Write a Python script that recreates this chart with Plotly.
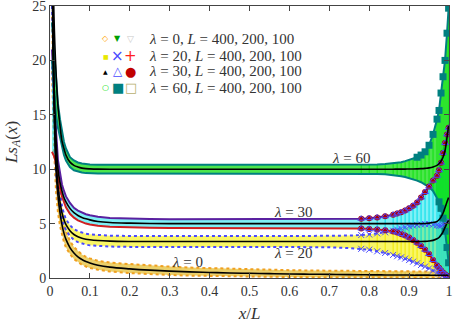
import plotly.graph_objects as go

x_nodes = [0.005, 0.01, 0.015, 0.02, 0.025, 0.03, 0.035, 0.04, 0.05, 0.06, 0.07, 0.08, 0.09, 0.1, 0.12, 0.15,
           0.2, 0.25, 0.3, 0.35, 0.4, 0.45, 0.5, 0.55, 0.6, 0.65, 0.7, 0.75,
           0.78, 0.8, 0.82, 0.84, 0.86, 0.87, 0.88, 0.89, 0.9, 0.91, 0.92, 0.93, 0.94, 0.95, 0.96, 0.97,
           0.975, 0.98, 0.985, 0.99, 0.995, 0.999]

# lambda = 0
theory_0 = [30, 17, 10.0, 7.6, 6.0, 4.9, 4.1, 3.55, 2.8, 2.3, 1.95, 1.7, 1.52, 1.38, 1.18, 1.0,
            0.84, 0.72, 0.63, 0.56, 0.51, 0.46, 0.43, 0.4, 0.37, 0.35, 0.33, 0.31,
            0.3, 0.29, 0.29, 0.28, 0.28, 0.27, 0.27, 0.27, 0.27, 0.26, 0.26, 0.26, 0.26, 0.26, 0.25, 0.25,
            0.25, 0.25, 0.25, 0.25, 0.25, 0.25]
upper_0 = [24, 16, 11.5, 8.6, 6.9, 5.7, 4.9, 4.3, 3.4, 2.85, 2.45, 2.15, 1.95, 1.8, 1.58, 1.42,
           1.28, 1.15, 1.05, 0.96, 0.9, 0.84, 0.79, 0.75, 0.72, 0.69, 0.67, 0.65,
           0.64, 0.63, 0.62, 0.62, 0.61, 0.61, 0.61, 0.6, 0.6, 0.6, 0.6, 0.6, 0.59, 0.59, 0.59, 0.59,
           0.59, 0.59, 0.58, 0.58, 0.58, 0.58]
lower_0 = [19, 12, 8.0, 6.0, 4.8, 3.9, 3.3, 2.8, 2.2, 1.75, 1.45, 1.22, 1.06, 0.93, 0.76, 0.6,
           0.45, 0.35, 0.28, 0.22, 0.18, 0.15, 0.12, 0.1, 0.09, 0.08, 0.07, 0.06,
           0.06, 0.06, 0.05, 0.05, 0.05, 0.05, 0.05, 0.05, 0.05, 0.05, 0.05, 0.05, 0.05, 0.05, 0.05, 0.05,
           0.05, 0.05, 0.05, 0.05, 0.05, 0.05]

# lambda = 20
theory_20 = [30, 16, 11.0, 8.5, 7.0, 6.0, 5.35, 4.9, 4.35, 4.0, 3.8, 3.66, 3.57, 3.51, 3.44, 3.39,
             3.36, 3.35, 3.35, 3.35, 3.35, 3.35, 3.35, 3.35, 3.35, 3.35, 3.35, 3.35,
             3.35, 3.35, 3.35, 3.35, 3.35, 3.35, 3.35, 3.35, 3.35, 3.35, 3.36, 3.36, 3.37, 3.4, 3.46, 3.6,
             3.72, 3.95, 4.25, 4.65, 5.05, 5.3]
upper_20 = [25, 18, 12.2, 9.4, 7.7, 6.6, 5.9, 5.4, 4.85, 4.5, 4.3, 4.16, 4.07, 4.01, 3.94, 3.89,
            3.86, 3.85, 3.85, 3.85, 3.85, 3.85, 3.85, 3.85, 3.85, 3.85, 3.86, 3.9,
            3.95, 4.0, 4.1, 4.2, 4.35, 4.45, 4.55, 4.65, 4.75, 4.82, 4.88, 4.92, 4.95, 4.95, 4.9, 4.85,
            4.8, 4.8, 4.9, 5.0, 5.2, 5.3]
lower_20 = [20, 14, 9.8, 7.6, 6.3, 5.4, 4.8, 4.4, 3.85, 3.5, 3.3, 3.16, 3.07, 3.0, 2.94, 2.89,
            2.86, 2.85, 2.85, 2.85, 2.85, 2.85, 2.85, 2.85, 2.85, 2.85, 2.82, 2.75,
            2.68, 2.6, 2.45, 2.3, 2.12, 2.0, 1.9, 1.78, 1.65, 1.5, 1.35, 1.2, 1.05, 0.88, 0.68, 0.5,
            0.42, 0.33, 0.25, 0.18, 0.12, 0.08]

# lambda = 30
theory_30 = [30, 18, 13.0, 10.0, 8.8, 8.0, 7.4, 7.0, 6.4, 6.0, 5.75, 5.57, 5.44, 5.34, 5.2, 5.1,
             5.04, 5.01, 5.0, 5.0, 5.0, 5.0, 5.0, 5.0, 5.0, 5.0, 5.0, 5.0,
             5.0, 5.0, 5.0, 5.0, 5.0, 5.0, 5.0, 5.0, 5.0, 5.0, 5.0, 5.0, 5.01, 5.04, 5.1, 5.2,
             5.35, 5.6, 5.95, 6.45, 7.0, 7.4]
upper_30 = [21, 17, 13.6, 10.8, 9.5, 8.6, 8.0, 7.5, 6.9, 6.45, 6.2, 6.0, 5.86, 5.76, 5.62, 5.52,
            5.45, 5.42, 5.4, 5.4, 5.4, 5.4, 5.4, 5.4, 5.4, 5.4, 5.4, 5.42,
            5.45, 5.5, 5.57, 5.67, 5.82, 5.92, 6.05, 6.2, 6.4, 6.65, 6.95, 7.4, 7.9, 8.4, 8.95, 9.4,
            9.9, 10.6, 11.5, 12.4, 13.2, 13.8]
lower_30 = [11.6, 11.2, 10.6, 9.4, 8.3, 7.5, 6.9, 6.5, 5.9, 5.55, 5.3, 5.13, 5.0, 4.92, 4.8, 4.7,
            4.64, 4.61, 4.6, 4.6, 4.6, 4.6, 4.6, 4.6, 4.6, 4.6, 4.6, 4.58,
            4.55, 4.5, 4.45, 4.38, 4.28, 4.18, 4.05, 3.9, 3.72, 3.5, 3.25, 2.95, 2.6, 2.2, 1.65, 1.15,
            0.95, 0.72, 0.5, 0.35, 0.2, 0.1]

# lambda = 60
theory_60 = [40, 24, 19.0, 15.8, 14.0, 12.6, 11.9, 11.3, 10.65, 10.35, 10.2, 10.1, 10.05, 10.03, 10.01, 10.0,
             10.0, 10.0, 10.0, 10.0, 10.0, 10.0, 10.0, 10.0, 10.0, 10.0, 10.0, 10.0,
             10.0, 10.0, 10.0, 10.0, 10.0, 10.01, 10.01, 10.01, 10.02, 10.02, 10.03, 10.05, 10.08, 10.12, 10.2, 10.35,
             10.5, 10.75, 11.1, 11.7, 12.9, 14.0]
upper_60 = [23.5, 21, 18.0, 16.0, 14.6, 13.4, 12.5, 11.9, 11.1, 10.8, 10.62, 10.52, 10.46, 10.43, 10.41, 10.4,
            10.4, 10.4, 10.4, 10.4, 10.4, 10.4, 10.4, 10.4, 10.4, 10.4, 10.4, 10.4,
            10.41, 10.42, 10.44, 10.47, 10.52, 10.57, 10.64, 10.74, 10.85, 10.97, 11.1, 11.3, 11.6, 12.2, 13.2, 14.6,
            15.4, 17.0, 18.5, 20.0, 22.5, 24.8]
lower_60 = [20, 17, 15.0, 13.8, 12.9, 12.0, 11.3, 10.8, 10.2, 9.9, 9.76, 9.69, 9.64, 9.62, 9.61, 9.6,
            9.6, 9.6, 9.6, 9.6, 9.6, 9.6, 9.6, 9.6, 9.6, 9.6, 9.6, 9.6,
            9.59, 9.58, 9.56, 9.53, 9.48, 9.43, 9.36, 9.28, 9.18, 9.08, 8.95, 8.8, 8.6, 8.35, 8.0, 7.4,
            7.0, 6.4, 5.5, 4.3, 2.8, 1.4]

groups = [
    # upper, lower, theory, fill colour, hatch colour, upper edge, lower edge, edge dash
    (upper_0, lower_0, theory_0, 'rgba(232,200,80,0.85)', '#e0c040', '#f0a020', '#f0a020', 'dot'),
    (upper_20, lower_20, theory_20, 'rgba(245,240,0,0.6)', '#f0e800', '#4a4aff', '#4a4aff', 'dot'),
    (upper_30, lower_30, theory_30, 'rgba(0,225,235,0.5)', '#00dde8', '#5a20a0', '#d02020', 'solid'),
    (upper_60, lower_60, theory_60, 'rgba(0,220,0,0.7)', '#10e010', '#008080', '#008080', 'solid'),
]

tail = slice(28, None)
fig = go.Figure()

for upper, lower, theory, fill, hatch, up_col, lo_col, dash in groups:
    fig.add_trace(go.Scatter(x=x_nodes, y=lower, mode='lines', line=dict(width=0),
                             showlegend=False, hoverinfo='skip'))
    fig.add_trace(go.Scatter(x=x_nodes, y=upper, mode='lines', line=dict(width=0),
                             fill='tonexty', fillcolor=fill, showlegend=False, hoverinfo='skip'))
    # vertical zig-zag between the even and odd sites near the right wall
    spread = [u - l for u, l in zip(upper[tail], lower[tail])]
    fig.add_trace(go.Scatter(x=x_nodes[tail], y=lower[tail], mode='markers', marker=dict(size=1, opacity=0),
                             error_y=dict(type='data', symmetric=False, array=spread,
                                          arrayminus=[0] * len(spread), width=0,
                                          thickness=1, color=hatch),
                             showlegend=False, hoverinfo='skip'))
    fig.add_trace(go.Scatter(x=x_nodes, y=upper, mode='lines',
                             line=dict(color=up_col, width=2, dash=dash), showlegend=False))
    fig.add_trace(go.Scatter(x=x_nodes, y=lower, mode='lines',
                             line=dict(color=lo_col, width=2, dash=dash), showlegend=False))

# point symbols near the right boundary
fig.add_trace(go.Scatter(x=x_nodes[tail] * 2, y=upper_20[tail] + lower_20[tail], mode='markers',
                         marker=dict(symbol='x-thin', size=6, line=dict(color='#4a4aff', width=1)),
                         showlegend=False))
fig.add_trace(go.Scatter(x=x_nodes[tail] * 2, y=upper_30[tail] + lower_30[tail], mode='markers',
                         marker=dict(symbol='circle', size=6, color='#b00000'), showlegend=False))
fig.add_trace(go.Scatter(x=x_nodes[tail] * 2, y=upper_30[tail] + lower_30[tail], mode='markers',
                         marker=dict(symbol='triangle-up-open', size=6, color='#4a4aff'), showlegend=False))
fig.add_trace(go.Scatter(x=x_nodes[38:], y=upper_60[38:], mode='markers',
                         marker=dict(symbol='square', size=7, color='#008080'), showlegend=False))
fig.add_trace(go.Scatter(x=x_nodes[44:], y=lower_60[44:], mode='markers',
                         marker=dict(symbol='square', size=7, color='#008080'), showlegend=False))

# theoretical curves
for theory in (theory_0, theory_20, theory_30, theory_60):
    fig.add_trace(go.Scatter(x=x_nodes, y=theory, mode='lines',
                             line=dict(color='black', width=1.6, shape='spline'), showlegend=False))

# hand-made legend: three symbols per row
legend_rows = [
    ('<i>λ</i> = 0, <i>L</i> = 400, 200, 100', [('◇', '#ffa500', 8), ('▼', '#00a000', 8), ('▽', '#c8c8c8', 9)]),
    ('<i>λ</i> = 20, <i>L</i> = 400, 200, 100', [('■', '#e8e800', 6), ('×', '#4a4aff', 15), ('+', '#ff2020', 15)]),
    ('<i>λ</i> = 30, <i>L</i> = 400, 200, 100', [('▲', 'black', 6), ('△', '#4a4aff', 12), ('●', '#c00000', 13)]),
    ('<i>λ</i> = 60, <i>L</i> = 400, 200, 100', [('○', '#00e000', 8), ('■', '#008080', 13), ('□', '#b8b070', 13)]),
]
row_y = [0.879, 0.816, 0.761, 0.699]
sym_x = [0.140, 0.170, 0.203]
annotations = []
for (label, symbols), ry in zip(legend_rows, row_y):
    annotations.append(dict(x=0.243, y=ry, xref='paper', yref='paper', text=label, showarrow=False,
                            xanchor='left', yanchor='middle', font=dict(size=15)))
    for (sym, col, size), sx in zip(symbols, sym_x):
        annotations.append(dict(x=sx, y=ry, xref='paper', yref='paper', text=sym, showarrow=False,
                                xanchor='center', yanchor='middle',
                                font=dict(size=size, color=col, family='DejaVu Sans')))

# curve labels
for text, lx, ly in [('<i>λ</i> = 60', 0.754, 11.0), ('<i>λ</i> = 30', 0.608, 6.1),
                     ('<i>λ</i> = 20', 0.608, 2.3), ('<i>λ</i> = 0', 0.344, 1.5)]:
    annotations.append(dict(x=lx, y=ly, text=text, showarrow=False, font=dict(size=15)))

axis_style = dict(showline=True, linecolor='#444', linewidth=1, mirror='ticks', ticks='inside',
                  ticklen=5, tickcolor='#444', showgrid=False, zeroline=False,
                  automargin=False, ticklabeloverflow='allow')

fig.update_layout(
    width=453, height=323,
    margin=dict(l=50, r=4, t=6, b=45),
    plot_bgcolor='white', paper_bgcolor='white',
    font=dict(family='Liberation Serif', size=14, color='#333'),
    showlegend=False,
    annotations=annotations,
    xaxis=dict(range=[0, 1], dtick=0.1, title=dict(text='<i>x</i>/<i>L</i>', standoff=12), **axis_style),
    yaxis=dict(range=[0, 25], dtick=5,
               title=dict(text='<i>Ls</i><sub><i>A</i></sub>(<i>x</i>)', standoff=10), **axis_style),
)

fig.write_html("out.html", config={'displayModeBar': False},
               post_script="document.body.style.margin='0';document.body.style.overflow='hidden';")
